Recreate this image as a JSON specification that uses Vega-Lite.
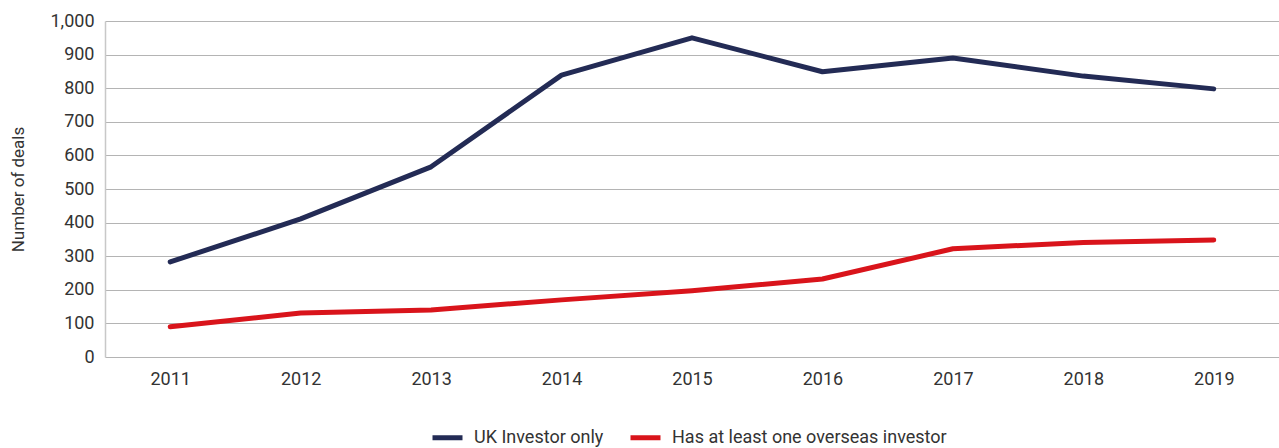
{
  "$schema": "https://vega.github.io/schema/vega-lite/v6.json",
  "autosize": "none",
  "width": 1174,
  "height": 336,
  "padding": {"left": 105, "top": 21, "right": 0, "bottom": 91},
  "background": "white",
  "config": {
    "font": "Roboto",
    "view": {"stroke": null}
  },
  "data": {
    "values": [
      {"year": "2011", "series": "UK Investor only", "deals": 283},
      {"year": "2012", "series": "UK Investor only", "deals": 411},
      {"year": "2013", "series": "UK Investor only", "deals": 566},
      {"year": "2014", "series": "UK Investor only", "deals": 839},
      {"year": "2015", "series": "UK Investor only", "deals": 950},
      {"year": "2016", "series": "UK Investor only", "deals": 849},
      {"year": "2017", "series": "UK Investor only", "deals": 890},
      {"year": "2018", "series": "UK Investor only", "deals": 836},
      {"year": "2019", "series": "UK Investor only", "deals": 798},
      {"year": "2011", "series": "Has at least one overseas investor", "deals": 90},
      {"year": "2012", "series": "Has at least one overseas investor", "deals": 131},
      {"year": "2013", "series": "Has at least one overseas investor", "deals": 140},
      {"year": "2014", "series": "Has at least one overseas investor", "deals": 170},
      {"year": "2015", "series": "Has at least one overseas investor", "deals": 197},
      {"year": "2016", "series": "Has at least one overseas investor", "deals": 232},
      {"year": "2017", "series": "Has at least one overseas investor", "deals": 322},
      {"year": "2018", "series": "Has at least one overseas investor", "deals": 341},
      {"year": "2019", "series": "Has at least one overseas investor", "deals": 348}
    ]
  },
  "mark": {"type": "line", "strokeWidth": 5, "strokeCap": "round", "strokeJoin": "round"},
  "encoding": {
    "x": {
      "field": "year",
      "type": "ordinal",
      "scale": {"type": "point", "padding": 0.5},
      "axis": {
        "title": null,
        "labelAngle": 0,
        "labelFontSize": 18,
        "labelColor": "#333333",
        "labelPadding": 13,
        "ticks": false,
        "domain": false,
        "grid": false
      }
    },
    "y": {
      "field": "deals",
      "type": "quantitative",
      "scale": {"domain": [0, 1000], "nice": false},
      "axis": {
        "title": "Number of deals",
        "titleFontSize": 17,
        "titleFontWeight": "normal",
        "titleColor": "#333333",
        "titlePadding": 22,
        "values": [0, 100, 200, 300, 400, 500, 600, 700, 800, 900, 1000],
        "format": ",d",
        "labelFontSize": 18,
        "labelColor": "#333333",
        "labelPadding": 11,
        "ticks": false,
        "domain": true,
        "domainColor": "#c8c8c8",
        "domainWidth": 1.5,
        "grid": true,
        "gridColor": "#b4b4b4",
        "gridWidth": 1.2
      }
    },
    "color": {
      "field": "series",
      "type": "nominal",
      "sort": ["UK Investor only", "Has at least one overseas investor"],
      "scale": {
        "domain": ["UK Investor only", "Has at least one overseas investor"],
        "range": ["#232b55", "#d9141b"]
      },
      "legend": {
        "title": null,
        "orient": "none",
        "direction": "horizontal",
        "legendX": 325,
        "legendY": 399,
        "symbolType": "stroke",
        "symbolSize": 900,
        "symbolStrokeWidth": 5,
        "labelFontSize": 18,
        "labelLimit": 500,
        "labelColor": "#333333",
        "columnPadding": 16,
        "labelOffset": 9
      }
    }
  }
}
